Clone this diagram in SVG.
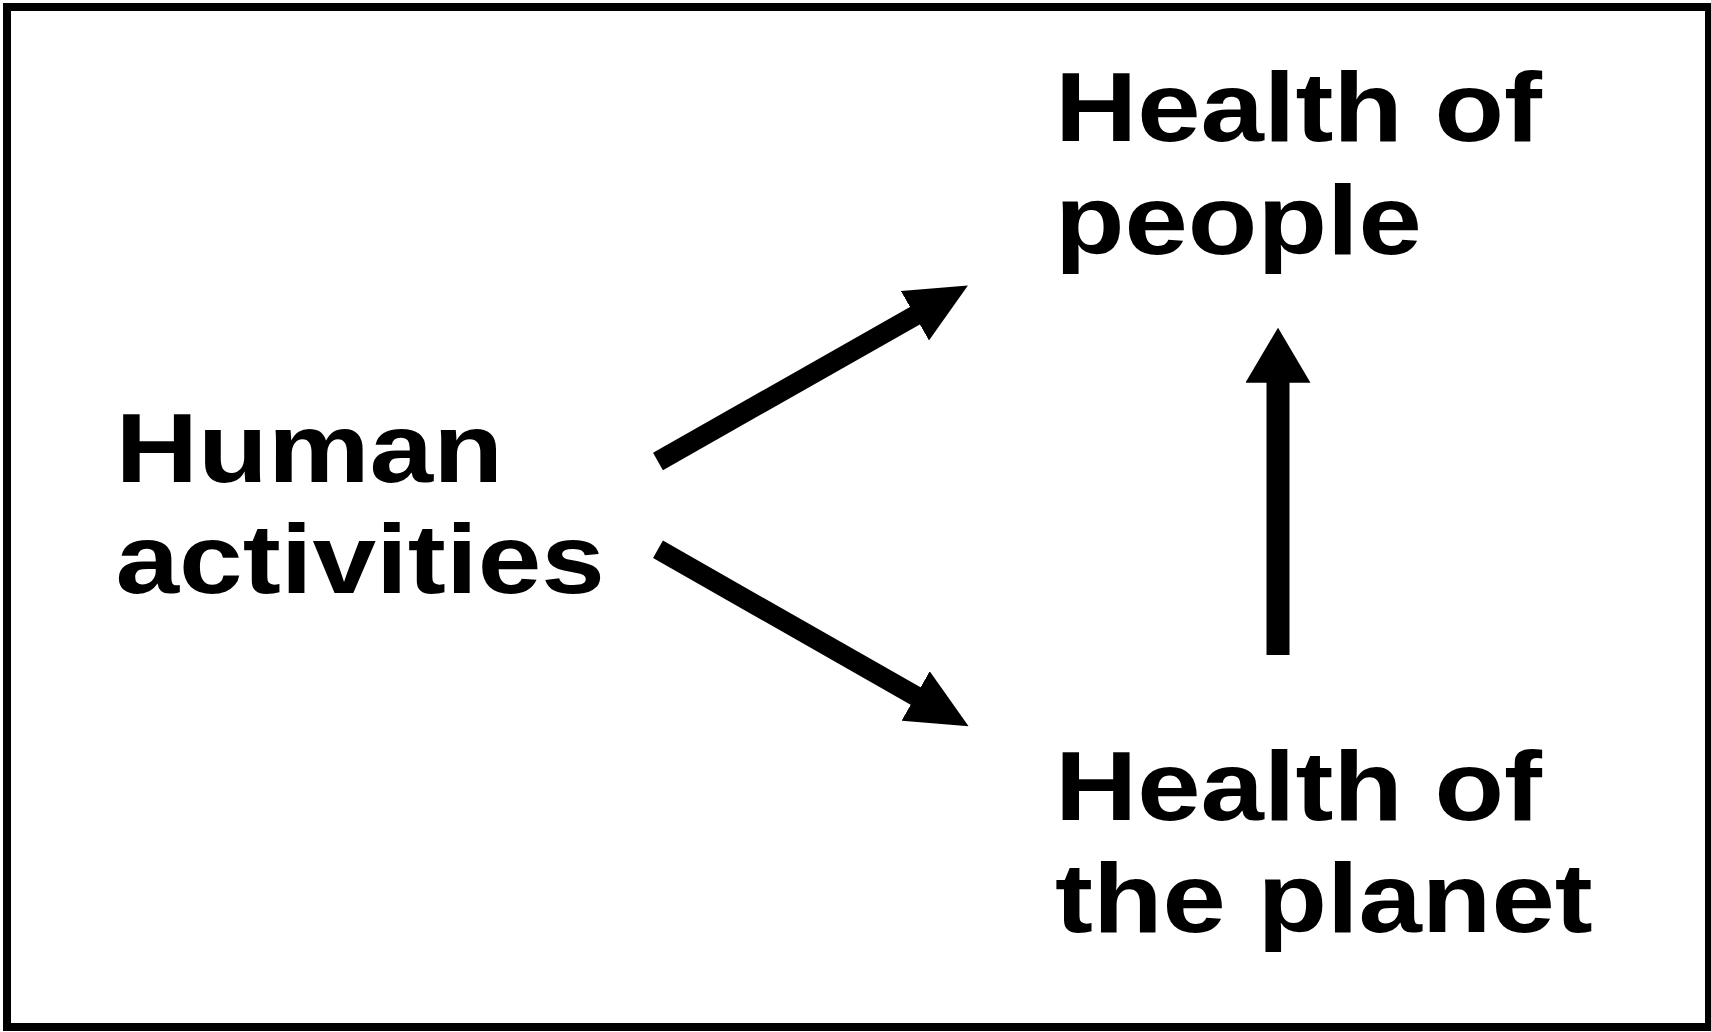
<svg xmlns="http://www.w3.org/2000/svg" width="1711" height="1032" viewBox="0 0 1711 1032">
  <style>
    .lbl { font-family: "Liberation Sans", Arial, sans-serif; font-weight: bold; font-size: 99px; fill: #000; }
    .conn { stroke: #000; fill: none; stroke-linecap: butt; }
  </style>
  <defs>
    <marker id="headDiag" markerUnits="userSpaceOnUse" viewBox="0 0 61 57" refX="3" refY="28.5" markerWidth="61" markerHeight="57" orient="auto">
      <path d="M0,0 L61,28.5 L0,57 Z" fill="#000"/>
    </marker>
    <marker id="headVert" markerUnits="userSpaceOnUse" viewBox="0 0 55 65" refX="3" refY="32.5" markerWidth="55" markerHeight="65" orient="auto">
      <path d="M0,0 L55,32.5 L0,65 Z" fill="#000"/>
    </marker>
  </defs>
  <rect x="0" y="0" width="1711" height="1032" fill="#fff"/>
  <rect id="frame" x="7" y="7" width="1702" height="1020" fill="none" stroke="#000" stroke-width="8"/>

  <g id="node-human-activities">
    <text class="lbl" transform="translate(115.5,481.5) scale(1.155,1)">Human</text>
    <text class="lbl" transform="translate(115.5,593) scale(1.155,1)">activities</text>
  </g>
  <g id="node-health-people">
    <text class="lbl" transform="translate(1055,141) scale(1.15,1)">Health of</text>
    <text class="lbl" transform="translate(1055,253.5) scale(1.15,1)">people</text>
  </g>
  <g id="node-health-planet">
    <text class="lbl" transform="translate(1055,820) scale(1.15,1)">Health of</text>
    <text class="lbl" transform="translate(1055,932) scale(1.15,1)">the planet</text>
  </g>

  <g id="connectors">
    <line class="conn" x1="658" y1="461.5" x2="917.5" y2="314.2" stroke-width="20" marker-end="url(#headDiag)"/>
    <line class="conn" x1="658" y1="549.3" x2="918.2" y2="697.5" stroke-width="20" marker-end="url(#headDiag)"/>
    <line class="conn" x1="1278" y1="655" x2="1278" y2="379.7" stroke-width="23" marker-end="url(#headVert)"/>
  </g>
</svg>
